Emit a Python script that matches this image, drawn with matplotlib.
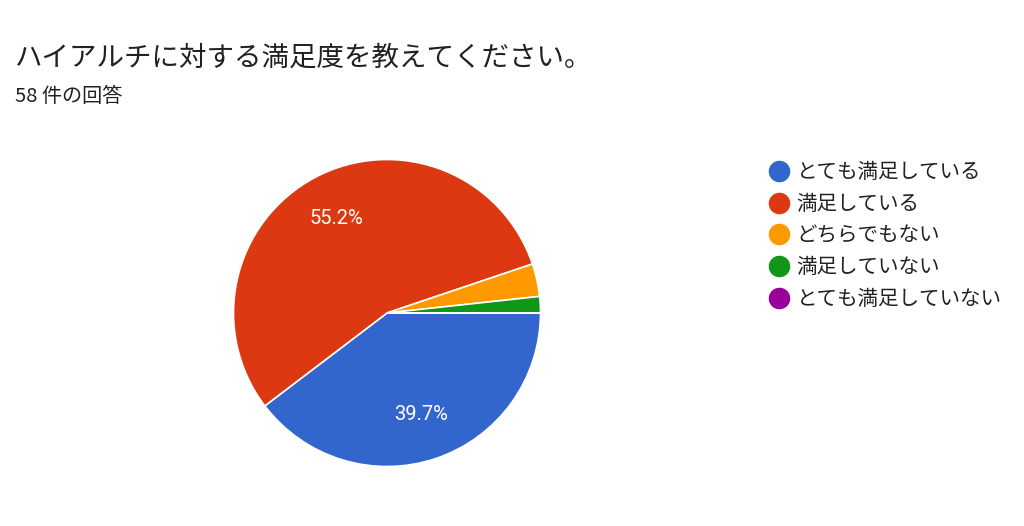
import matplotlib
matplotlib.use("Agg")
import matplotlib.pyplot as plt
from matplotlib.lines import Line2D

plt.rcParams['font.family'] = ['Noto Sans CJK JP', 'DejaVu Sans']

# data
labels = ['とても満足している', '満足している', 'どちらでもない', '満足していない', 'とても満足していない']
counts = [23, 32, 2, 1, 0]
colors = ['#3366cc', '#dc3912', '#ff9900', '#109618', '#990099']
title = 'ハイアルチに対する満足度を教えてください。'
subtitle = '58 件の回答'

W, H = 1024, 526
fig = plt.figure(figsize=(W / 100, H / 100), dpi=100)
fig.patch.set_facecolor('white')

# pie axes placed in pixel terms
cx, cy, r = 387, 313, 153.5
ax = fig.add_axes([(cx - r) / W, (H - cy - r) / H, 2 * r / W, 2 * r / H])


def pct_label(p):
    return f'{p:.1f}%' if p >= 5 else ''


wedges, texts, autotexts = ax.pie(
    counts, colors=colors, startangle=0, counterclock=False,
    autopct=pct_label, pctdistance=0.7,
    wedgeprops=dict(edgecolor='white', linewidth=1.2),
    textprops=dict(color='white', fontsize=14.5, family=['Roboto', 'DejaVu Sans']),
)
ax.set_xlim(-1, 1)
ax.set_ylim(-1, 1)
ax.set_aspect('equal')
ax.axis('off')

# title and subtitle
fig.text(15 / W, 1 - 58 / H, title, fontsize=19.8, color='#202124', va='center', ha='left')
fig.text(15 / W, 1 - 97 / H, subtitle, fontsize=14.5, color='#202124', va='center', ha='left')

# legend
handles = [Line2D([0], [0], marker='o', color='none', markerfacecolor=c,
                  markeredgecolor=c, markersize=14.5) for c in colors]
fig.legend(handles, labels, loc='upper left', bbox_to_anchor=(757 / W, 1 - 153 / H),
           frameon=False, fontsize=14.8, labelspacing=0.47, handletextpad=0.22,
           handlelength=1.3, borderaxespad=0, labelcolor='#222222')

plt.savefig('out.png', dpi=100, facecolor='white')
